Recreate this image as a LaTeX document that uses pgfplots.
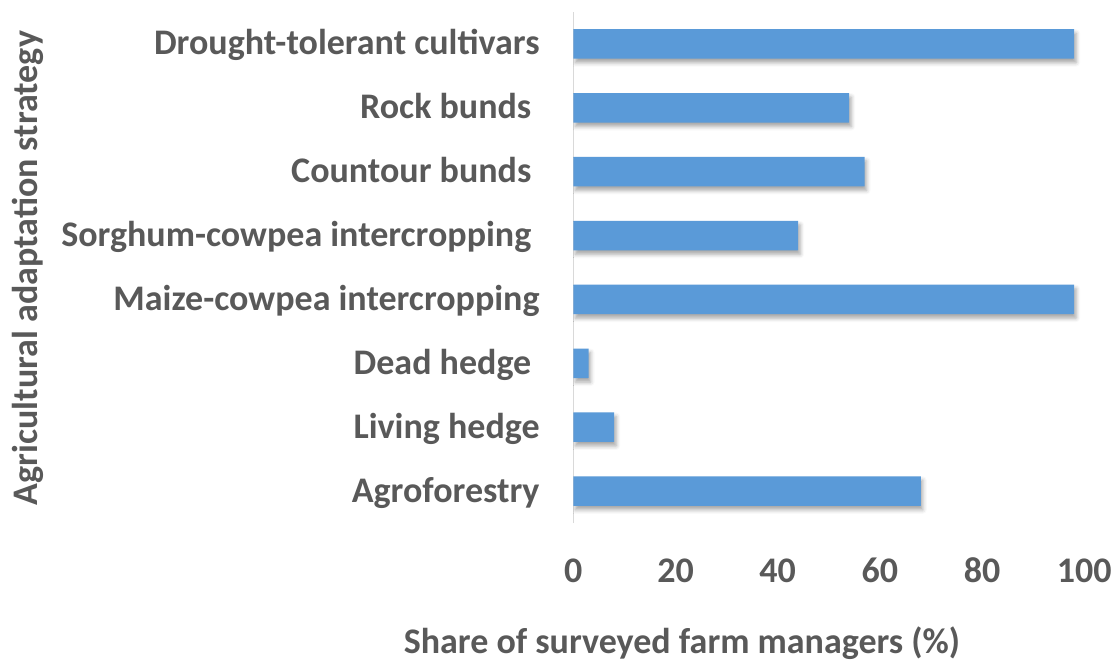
\documentclass[border=0pt]{standalone}
\usepackage{pgfplots}
\pgfplotsset{compat=1.18}
\usepackage{fontspec}
\setmainfont{Carlito}
\usetikzlibrary{shadows.blur}
\definecolor{txt}{HTML}{595959}
\definecolor{barBlue}{HTML}{5A9AD8}
\definecolor{axgray}{HTML}{D9D9D9}

\begin{document}
\begin{tikzpicture}[font=\fontsize{18}{21}\selectfont\bfseries]
\useasboundingbox (-286.65pt,-70.5pt) rectangle (269.85pt,261.5pt);
\begin{axis}[
    at={(0,0)}, anchor=south west,
    scale only axis,
    width=255.5pt, height=255.5pt,
    xbar, bar width=14.75pt,
    xmin=0, xmax=100, ymin=-0.5, ymax=7.5,
    xtick={0,20,...,100},
    ytick={0,...,7},
    yticklabels={Agroforestry, Living hedge, Dead hedge\hspace*{0.23em}, Maize-cowpea intercropping, Sorghum-cowpea intercropping\hspace*{0.23em}, Countour bunds\hspace*{0.23em}, Rock bunds\hspace*{0.23em}, Drought-tolerant cultivars},
    /pgf/number format/assume math mode=true,
    axis lines*=left,
    x axis line style={draw=none},
    y axis line style={draw=axgray, line width=0.75pt},
    major tick length=0pt,
    tick label style={text=txt},
    label style={text=txt},
    xticklabel style={anchor=base, inner sep=0pt, yshift=-29.5pt},
    yticklabel style={anchor=base east, inner sep=0pt, xshift=-16.65pt, yshift=-5.5pt},
    xlabel={Share of surveyed farm managers (\%)},
    ylabel={Agricultural adaptation strategy},
    xlabel style={at={(axis description cs:0.2127,-0.2348)}, anchor=center},
    ylabel style={at={(axis description cs:-1.067,0.499)}, anchor=center},
]
\addplot[draw=none, fill=barBlue,
    blur shadow={shadow xshift=1pt, shadow yshift=-2pt, shadow blur radius=2pt, shadow opacity=35}]
    coordinates {(68,0) (8,1) (3,2) (98,3) (44,4) (57,5) (54,6) (98,7)};
\end{axis}
\end{tikzpicture}
\end{document}
